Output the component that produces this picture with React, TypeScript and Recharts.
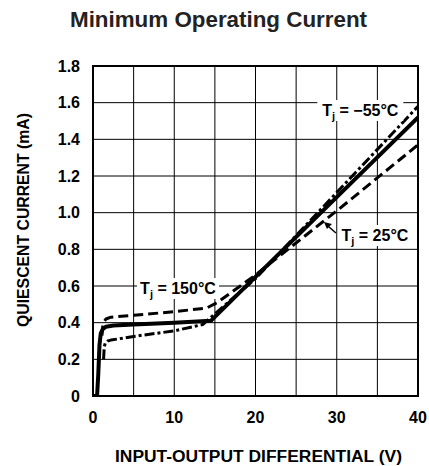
import React from 'react';
import { LineChart, Line, XAxis, YAxis, CartesianGrid, ReferenceArea, ReferenceDot } from 'recharts';

// axis ticks
const xTicks = [0, 5, 10, 15, 20, 25, 30, 35, 40];
const yTicks = [0, 0.2, 0.4, 0.6, 0.8, 1.0, 1.2, 1.4, 1.6, 1.8];

// Tj = 25°C (solid)
const v25 = [0, 0.5, 0.65, 0.8, 0.95, 1.2, 1.6, 2.5, 5, 10, 14.5, 20, 30, 40];
const i25 = [0, 0, 0.12, 0.28, 0.34, 0.365, 0.378, 0.385, 0.39, 0.4, 0.41, 0.65, 1.085, 1.52];

// Tj = 150°C (dashed)
const v150 = [1.1, 1.2, 1.35, 1.6, 2.2, 5, 10, 14, 15.3, 20, 30, 40];
const i150 = [0.33, 0.38, 0.405, 0.42, 0.43, 0.44, 0.46, 0.48, 0.51, 0.66, 1.01, 1.37];

// Tj = -55°C (dash-dot)
const vm55 = [1.3, 1.38, 1.5, 1.8, 2.2, 5, 10, 13.5, 20, 30, 40];
const im55 = [0.2, 0.265, 0.288, 0.3, 0.305, 0.325, 0.355, 0.39, 0.64, 1.11, 1.58];

const toRows = (v: number[], i: number[]) => v.map((x, k) => ({ v: x, i: i[k] }));

const font = '"Liberation Sans", Arial, sans-serif';

const TjLabel = (props: any) => {
  const { viewBox, temp, w, arrow } = props;
  const cx = viewBox.x + (viewBox.width || 0) / 2;
  const cy = viewBox.y + (viewBox.height || 0) / 2;
  return (
    <g>
      <rect x={cx - w / 2 - 2} y={cy - 10} width={w + 4} height={21} fill="#fff" />
      <text x={cx} y={cy + 6} textAnchor="middle" fontFamily={font} fontWeight="bold" fontSize={16} fill="#000">
        <tspan>T</tspan>
        <tspan dy={4} fontSize={11}>j</tspan>
        <tspan dy={-4}>{' = ' + temp}</tspan>
      </text>
      {arrow && (
        <g>
          <line x1={cx - 39} y1={cy - 2} x2={cx - 47} y2={cy - 9} stroke="#000" strokeWidth={1.5} />
          <polygon points={`${cx - 51},${cy - 13} ${cx - 43},${cy - 11} ${cx - 48},${cy - 6}`} fill="#000" />
        </g>
      )}
    </g>
  );
};

const App: React.FC = () => {
  return (
    <div style={{ position: 'absolute', left: 0, top: 0, width: 429, height: 466, background: '#fff' }}>
      <LineChart width={429} height={466} margin={{ top: 66, right: 11, left: 33, bottom: 40 }}>
        <CartesianGrid stroke="#000" strokeWidth={1} />
        <XAxis
          type="number"
          dataKey="v"
          domain={[0, 40]}
          ticks={xTicks}
          allowDataOverflow
          interval={0}
          axisLine={false}
          tickLine={false}
          height={30}
          tickMargin={10}
          tickFormatter={(t) => (t % 10 === 0 ? String(t) : '')}
          tick={{ fill: '#000', fontSize: 16, fontWeight: 'bold', fontFamily: font }}
        />
        <YAxis
          type="number"
          dataKey="i"
          domain={[0, 1.8]}
          ticks={yTicks}
          allowDataOverflow
          interval={0}
          axisLine={false}
          tickLine={false}
          width={60}
          tickMargin={7}
          tickFormatter={(t) => (t === 0 ? '0' : t.toFixed(1))}
          tick={{ fill: '#000', fontSize: 16, fontWeight: 'bold', fontFamily: font }}
        />
        <ReferenceArea x1={0} x2={40} y1={0} y2={1.8} fill="none" stroke="#000" strokeWidth={2} fillOpacity={0} />
        <Line
          data={toRows(v150, i150)}
          dataKey="i"
          type="linear"
          stroke="#000"
          strokeWidth={3}
          strokeDasharray="10 5"
          strokeLinejoin="round"
          dot={false}
          isAnimationActive={false}
        />
        <Line
          data={toRows(vm55, im55)}
          dataKey="i"
          type="linear"
          stroke="#000"
          strokeWidth={3}
          strokeDasharray="10 3 3 3"
          strokeLinejoin="round"
          dot={false}
          isAnimationActive={false}
        />
        <Line
          data={toRows(v25, i25)}
          dataKey="i"
          type="linear"
          stroke="#000"
          strokeWidth={4}
          strokeLinejoin="round"
          dot={false}
          isAnimationActive={false}
        />
        <ReferenceDot x={32.9} y={1.56} r={1} fill="none" stroke="none" label={<TjLabel temp="−55°C" w={82} />} />
        <ReferenceDot x={34.7} y={0.878} r={1} fill="none" stroke="none" label={<TjLabel temp="25°C" w={70} arrow />} />
        <ReferenceDot x={10.46} y={0.589} r={1} fill="none" stroke="none" label={<TjLabel temp="150°C" w={78} />} />
      </LineChart>
      <svg width={429} height={466} style={{ position: 'absolute', left: 0, top: 0, pointerEvents: 'none' }}>
        <text x={70} y={27} fontFamily={font} fontWeight="bold" fontSize={22} fill="#222" textLength={297} lengthAdjust="spacingAndGlyphs">
          Minimum Operating Current
        </text>
        <text x={115} y={462} fontFamily={font} fontWeight="bold" fontSize={16} fill="#000" textLength={287} lengthAdjust="spacingAndGlyphs">
          INPUT-OUTPUT DIFFERENTIAL (V)
        </text>
        <text transform="translate(29,327) rotate(-90)" x={0} y={0} fontFamily={font} fontWeight="bold" fontSize={16} fill="#000" textLength={214} lengthAdjust="spacingAndGlyphs">
          QUIESCENT CURRENT (mA)
        </text>
      </svg>
    </div>
  );
};

export default App;
